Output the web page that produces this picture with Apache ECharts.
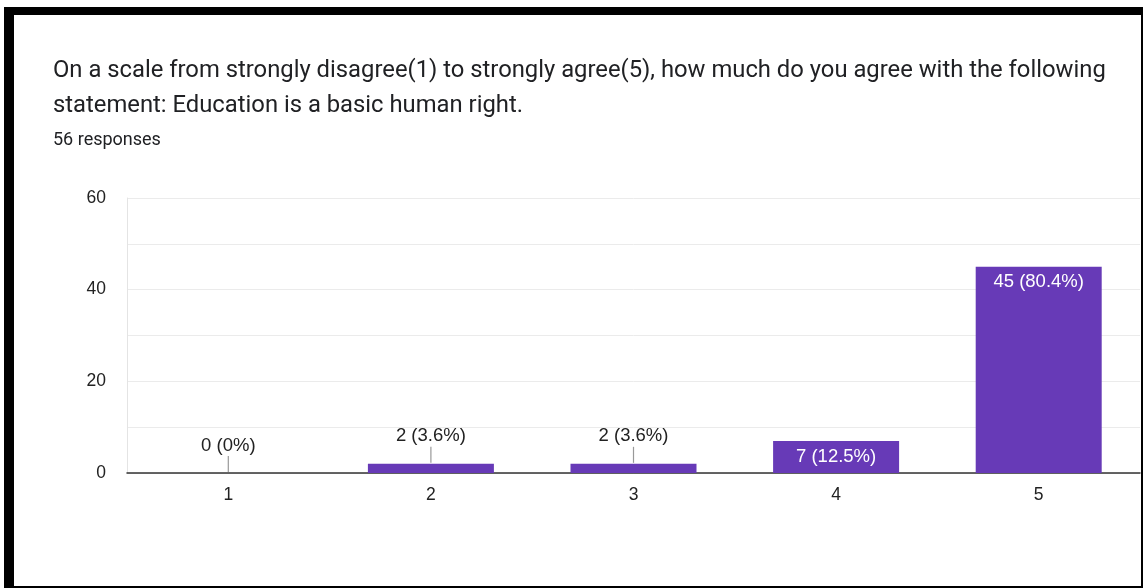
<!DOCTYPE html>
<html>
<head>
<meta charset="utf-8">
<script src="https://cdn.jsdelivr.net/npm/echarts@6/dist/echarts.min.js"></script>
<style>
  html, body { margin: 0; padding: 0; background: #fff; }
  #chart { width: 1143px; height: 588px; }
</style>
</head>
<body>
<div id="chart"></div>
<script>
// Survey answers on the 1–5 agreement scale
const categories = ['1', '2', '3', '4', '5'];
const counts = [0, 2, 2, 7, 45];
const percents = ['0%', '3.6%', '3.6%', '12.5%', '80.4%'];
const yTicks = [0, 20, 40, 60];

const titleLine1 = 'On a scale from strongly disagree(1) to strongly agree(5), how much do you agree with the following';
const titleLine2 = 'statement: Education is a basic human right.';
const responsesText = '56 responses';

const PURPLE = '#673ab7';
const LABEL_FONT = 'Liberation Sans, Arial, sans-serif';
const SMALL_LIMIT = 5; // bars shorter than this get their label above, with a leader line

const barData = counts.map((v, i) => {
  const small = v < SMALL_LIMIT;
  return {
    value: v,
    label: {
      show: true,
      formatter: v + ' (' + percents[i] + ')',
      position: small ? 'top' : 'insideTop',
      distance: small ? 18 : 6,
      color: small ? '#222222' : '#ffffff',
      fontSize: 18.5,
      fontFamily: LABEL_FONT
    }
  };
});

const leaderData = counts.map((v, i) => [i, v]).filter(d => d[1] < SMALL_LIMIT);

const chart = echarts.init(document.getElementById('chart'), null, { renderer: 'canvas' });

chart.setOption({
  animation: false,
  backgroundColor: '#ffffff',
  title: [
    {
      text: titleLine1 + '\n' + titleLine2,
      left: 53, top: 53, padding: 0,
      textStyle: { fontFamily: 'Roboto, sans-serif', fontSize: 23.8, fontWeight: 'normal', color: '#202124', lineHeight: 35.5 }
    },
    {
      text: responsesText,
      left: 53, top: 131, padding: 0,
      textStyle: { fontFamily: 'Roboto, sans-serif', fontSize: 18, fontWeight: 'normal', color: '#202124' }
    }
  ],
  grid: { left: 127, right: 3, top: 198, bottom: 115, containLabel: false },
  xAxis: {
    type: 'category',
    data: categories,
    axisTick: { show: false },
    axisLine: { lineStyle: { color: '#333333', width: 1.5 } },
    axisLabel: { color: '#222222', fontSize: 17.5, fontFamily: LABEL_FONT, margin: 13 },
    splitLine: { show: false }
  },
  yAxis: {
    type: 'value',
    min: yTicks[0],
    max: yTicks[yTicks.length - 1],
    interval: yTicks[1] - yTicks[0],
    axisLine: { show: true, lineStyle: { color: '#e4e4e4', width: 1 } },
    axisTick: { show: false },
    axisLabel: { color: '#222222', fontSize: 17.5, fontFamily: LABEL_FONT, margin: 21 },
    splitLine: { lineStyle: { color: '#ebebeb', width: 1 } },
    minorTick: { show: false, splitNumber: 2 },
    minorSplitLine: { show: true, lineStyle: { color: '#ebebeb', width: 1 } }
  },
  series: [
    {
      type: 'bar',
      data: barData,
      barWidth: 126,
      itemStyle: { color: PURPLE },
      z: 2
    },
    {
      // leader lines joining the outside labels to their bars
      type: 'custom',
      data: leaderData,
      z: 3,
      silent: true,
      renderItem: function (params, api) {
        const p = api.coord([api.value(0), api.value(1)]);
        return {
          type: 'line',
          shape: { x1: p[0], y1: p[1] - 1, x2: p[0], y2: p[1] - 17 },
          style: { stroke: '#999999', lineWidth: 1.2 }
        };
      }
    }
  ],
  graphic: [
    // page frame
    { type: 'rect', shape: { x: 4, y: 7, width: 1139, height: 8 }, style: { fill: '#000' }, z: 100 },
    { type: 'rect', shape: { x: 4, y: 7, width: 10, height: 581 }, style: { fill: '#000' }, z: 100 },
    { type: 'rect', shape: { x: 1141, y: 7, width: 2, height: 581 }, style: { fill: '#000' }, z: 100 },
    { type: 'rect', shape: { x: 4, y: 586, width: 1139, height: 2 }, style: { fill: '#000' }, z: 100 }
  ]
});
</script>
</body>
</html>
